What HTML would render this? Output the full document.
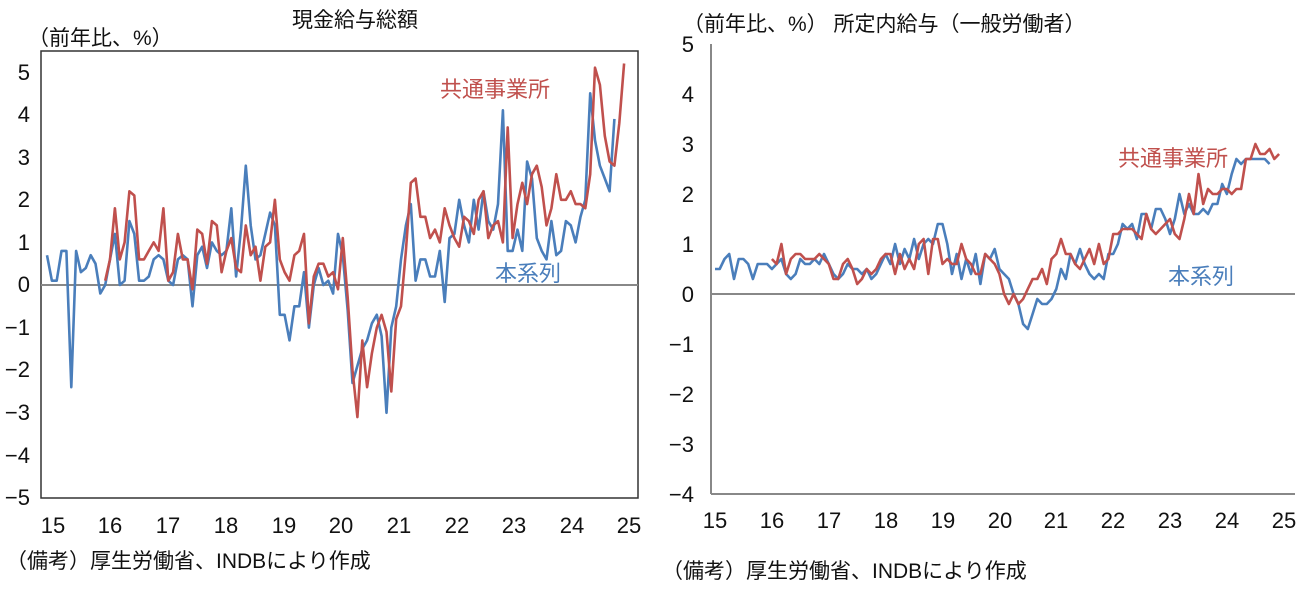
<!DOCTYPE html>
<html><head><meta charset="utf-8"><style>
body{margin:0;background:#fff;width:1315px;height:605px;overflow:hidden}
svg text{font-family:"Liberation Sans","Noto Sans CJK JP",sans-serif;fill:#111}
</style></head><body>
<svg id="s" width="1315" height="605" xmlns="http://www.w3.org/2000/svg">
<text x="355" y="27" font-size="21" text-anchor="middle">現金給与総額</text>
<text x="28" y="45" font-size="21">（前年比、%）</text>
<rect x="41" y="51" width="597" height="447" fill="none" stroke="#333" stroke-width="1.5"/>
<line x1="41" y1="285" x2="638" y2="285" stroke="#888" stroke-width="2"/>
<g font-size="22" text-anchor="end">
<text x="30" y="80">5</text><text x="30" y="122">4</text><text x="30" y="165">3</text><text x="30" y="207">2</text><text x="30" y="250">1</text><text x="30" y="292">0</text><text x="30" y="335">−1</text><text x="30" y="377">−2</text><text x="30" y="420">−3</text><text x="30" y="463">−4</text><text x="30" y="505">−5</text>
</g>
<g font-size="22" text-anchor="middle">
<text x="53" y="533">15</text><text x="110" y="533">16</text><text x="168" y="533">17</text><text x="226" y="533">18</text><text x="284" y="533">19</text><text x="341" y="533">20</text><text x="399" y="533">21</text><text x="457" y="533">22</text><text x="514" y="533">23</text><text x="572" y="533">24</text><text x="629" y="533">25</text>
</g>
<text x="440" y="97" font-size="22" style="fill:#c0504d">共通事業所</text>
<text x="495" y="281" font-size="22" style="fill:#4a7ebb">本系列</text>
<text x="6" y="568" font-size="21">（備考）厚生労働省、INDBにより作成</text>

<text x="683" y="31" font-size="21">（前年比、%）  所定内給与（一般労働者）</text>
<line x1="711" y1="44" x2="711" y2="494" stroke="#888" stroke-width="2"/>
<line x1="711" y1="494" x2="1295" y2="494" stroke="#888" stroke-width="2"/>
<line x1="711" y1="294" x2="1295" y2="294" stroke="#888" stroke-width="2"/>
<g font-size="22" text-anchor="end">
<text x="694" y="52">5</text><text x="694" y="102">4</text><text x="694" y="152">3</text><text x="694" y="202">2</text><text x="694" y="252">1</text><text x="694" y="302">0</text><text x="694" y="352">−1</text><text x="694" y="402">−2</text><text x="694" y="452">−3</text><text x="694" y="502">−4</text>
</g>
<g font-size="22" text-anchor="middle">
<text x="715" y="528">15</text><text x="772" y="528">16</text><text x="829" y="528">17</text><text x="886" y="528">18</text><text x="943" y="528">19</text><text x="1000" y="528">20</text><text x="1056" y="528">21</text><text x="1113" y="528">22</text><text x="1170" y="528">23</text><text x="1227" y="528">24</text><text x="1284" y="528">25</text>
</g>
<text x="1118" y="166" font-size="22" style="fill:#c0504d">共通事業所</text>
<text x="1168" y="284" font-size="22" style="fill:#4a7ebb">本系列</text>
<text x="662" y="578" font-size="21">（備考）厚生労働省、INDBにより作成</text>
</svg>
<script>
var s=document.getElementById('s');
function line(d,start,x0,dx,y0,dy,col){var p=[];for(var i=0;i<d.length;i++){p.push((x0+(start+i)*dx).toFixed(1)+','+(y0-d[i]*dy).toFixed(1));}
var e=document.createElementNS('http://www.w3.org/2000/svg','polyline');e.setAttribute('points',p.join(' '));e.setAttribute('fill','none');e.setAttribute('stroke',col);e.setAttribute('stroke-width','2.6');e.setAttribute('stroke-linejoin','round');s.appendChild(e);}
var LB=[.7,.1,.1,.8,.8,-2.4,.8,.3,.4,.7,.5,-.2, 0,.6,1.2,0,.1,1.5,1.2,.1,.1,.2,.6,.7, .6,.1,0,.6,.7,.6,-.5,.7,.9,.4,1,.8, .7,.8,1.8,.2,1.3,2.8,1.4,.6,.7,1.2,1.7,1.4, -.7,-.7,-1.3,-.5,-.5,.3,-1,0,.4,0,.1,-.2, 1.2,.7,-.6,-2.3,-1.9,-1.5,-1.3,-.9,-.7,-1.2,-3,-1, -.5,.6,1.4,1.9,.1,.6,.6,.2,.2,.8,-.4,1.1, 1.2,2,1.4,1,2,1.3,2.2,1.5,1.3,1.9,4.1,.8, .8,1.3,.8,2.9,2.5,1.1,.8,.6,1.5,.7,.8,1.5, 1.4,1,1.6,2,4.5,3.4,2.8,2.5,2.2,3.9];
var LR=[.1,.6,1.8,.6,1,2.2,2.1,.6,.6,.8,1,.8, 1.8,.1,.3,1.2,.6,.6,-.1,1.3,1.2,.5,1.5,1.4, .3,.8,1.1,.4,.3,1.4,.7,.9,.1,.9,1,2, .6,.3,.1,.7,.8,1.2,-.9,.2,.5,.5,.2,.3, -.1,1.1,-.3,-2,-3.1,-1.3,-2.4,-1.6,-1,-.7,-1.1,-2.5, -.8,-.5,.8,2.4,2.5,1.6,1.6,1.1,1.3,1,1.8,1.4, 1.1,.9,1.6,1.5,1.2,2,2.2,1.1,1.4,1.5,1,3.7, 1.1,1.9,2.4,1.9,2.6,2.8,2.3,1.4,1.8,2.6,2,2, 2.2,1.9,1.9,1.8,2.6,5.1,4.7,3.5,2.9,2.8,3.8,5.2];
line(LB,0,47,4.85,285,42.6,'#4a7ebb');
line(LR,12,47,4.85,285,42.6,'#c0504d');
var RB=[.5,.5,.7,.8,.3,.7,.7,.6,.3,.6,.6,.6, .5,.6,.7,.4,.3,.4,.7,.6,.6,.7,.6,.8, .6,.4,.3,.4,.6,.5,.5,.4,.5,.3,.4,.6, .8,.6,1,.6,.9,.7,1.1,.7,1,1.1,1,1.4, 1.4,1,.4,.8,.3,.7,.4,.8,.2,.8,.7, .9,.5,.4,.3,0,-.2,-.6,-.7, -.4,-.1,-.2,-.2,-.1,.1,.5,.3,.8,.6,.9,.6, .4,.3,.4,.3,.8,.8,1,1.4,1.3,1.4,1.1,1.6, 1.6,1.3,1.7,1.7,1.5,1.2,1.5,2,1.6,1.8,1.6,1.6, 1.7,1.6,1.8,1.8,2.2,2,2.4,2.7,2.6,2.7,2.7,2.7,2.7,2.7,2.6];
var RR=[.7,.6,1,.4,.7,.8,.8,.7,.7,.7,.8,.7, .6,.3,.3,.6,.7,.5,.2,.3,.5,.4,.5,.7, .8,.8,.4,.8,.5,.7,.5,1,1.1,.4,1.1,1.1, .6,.7,.6,.6,1,.7,.6,.4,.4,.8,.7,.6, .4,0,-.2,0,-.2,-.1,.1,.3,.3,.5,.2,.7, .8,1.1,.8,.8,.6,.5,.7,.9,.6,1,.6,.7, 1.2,1.2,1.3,1.3,1.3,1.2,1.1,1.6,1.3,1.2,1.3,1.4,1.5,1.2,1.1, 1.5,2,1.6,2.4,1.8,2.1,2,2,2.1,2.1,2,2.1, 2.1,2.7,2.7,3,2.8,2.8,2.9,2.7,2.8];
line(RB,0,715,4.74,294,50,'#4a7ebb');
line(RR,12,715,4.74,294,50,'#c0504d');
</script>
</body></html>
